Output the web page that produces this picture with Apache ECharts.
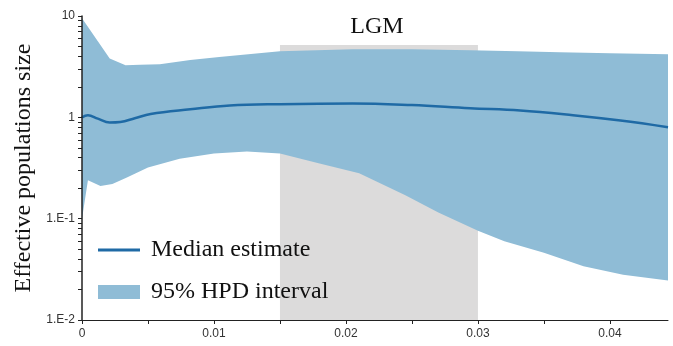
<!DOCTYPE html>
<html>
<head>
<meta charset="utf-8">
<script src="https://cdn.jsdelivr.net/npm/echarts@6/dist/echarts.min.js"></script>
<style>
  html, body { margin: 0; padding: 0; background: #fff; }
  #chart-container { width: 673px; height: 346px; }
</style>
</head>
<body>
<div id="chart-container"></div>
<script>
// upper bound of the 95% HPD interval
const upperX = [0, 0.0012, 0.0021, 0.0033, 0.0044, 0.0059, 0.0082, 0.0104, 0.0150, 0.0205, 0.0250, 0.0294, 0.0330, 0.0362, 0.0400, 0.0444];
const upperY = [9.5, 5.65, 3.81, 3.27, 3.3, 3.35, 3.67, 3.95, 4.5, 4.7, 4.7, 4.6, 4.5, 4.4, 4.3, 4.2];

// median estimate
const medX = [0, 0.00045, 0.0012, 0.0021, 0.0029, 0.0040, 0.0052, 0.0082, 0.0112, 0.0150, 0.0205, 0.0250, 0.0294, 0.0332, 0.0372, 0.0408, 0.0444];
const medY = [1.0, 1.05, 0.97, 0.89, 0.9, 0.98, 1.08, 1.2, 1.31, 1.35, 1.37, 1.32, 1.23, 1.17, 1.05, 0.93, 0.80];

// lower bound of the 95% HPD interval
const lowX = [0, 0.00045, 0.0014, 0.0023, 0.0034, 0.0050, 0.0074, 0.0100, 0.0125, 0.0150, 0.0180, 0.0210, 0.0245, 0.0270, 0.0300, 0.0320, 0.0350, 0.0380, 0.0410, 0.0444];
const lowY = [0.1, 0.24, 0.21, 0.22, 0.255, 0.32, 0.39, 0.44, 0.46, 0.44, 0.35, 0.28, 0.17, 0.115, 0.076, 0.06, 0.046, 0.034, 0.028, 0.0245];

// LGM shaded period
const lgmRange = [0.015, 0.03];
const lgmTop = 5.16;

// axis ticks and labels
const xLabels = [0, 0.01, 0.02, 0.03, 0.04];
const xTicks = [0, 0.005, 0.01, 0.015, 0.02, 0.025, 0.03, 0.035, 0.04];
const yDecades = [0.01, 0.1, 1, 10];

const bandColor = "#8fbcd6";
const lineColor = "#1f6aa5";
const lgmColor = "#dcdbdb";
const axisColor = "#222";
const serif = "'Liberation Serif', 'Times New Roman', serif";

const lg = (v) => Math.log10(v);

// y axis is drawn in log10 space: decade labels + 2..9 minor ticks
const yTicks = [];
yDecades.slice(0, 3).forEach((d) => {
  for (let k = 1; k <= 9; k++) yTicks.push(lg(d * k));
});
yTicks.push(lg(10));

const chart = echarts.init(document.getElementById("chart-container"));

const option = {
  animation: false,
  grid: { left: 82, right: 5, top: 16, bottom: 26 },
  legend: {
    orient: "vertical",
    left: 93,
    top: 233,
    itemWidth: 42,
    itemHeight: 14,
    itemGap: 18,
    selectedMode: false,
    data: [
      { name: "Median estimate", icon: "path://M0,0H42V3H0Z" },
      { name: "95% HPD interval", icon: "rect" },
    ],
    textStyle: { fontFamily: serif, fontSize: 24, color: "#111", padding: [0, 0, 0, 6] },
  },
  xAxis: {
    type: "value",
    min: 0,
    max: 0.0444,
    z: 5,
    axisLine: { onZero: false, lineStyle: { color: axisColor, width: 1 } },
    axisTick: { show: true, customValues: xTicks, length: 4, lineStyle: { color: axisColor } },
    axisLabel: {
      customValues: xLabels,
      margin: 8,
      fontFamily: "'Liberation Sans', Arial, sans-serif",
      fontSize: 12,
      color: "#333",
      formatter: (v) => (v === 0 ? "0" : v.toFixed(2)),
    },
    splitLine: { show: false },
  },
  yAxis: {
    type: "value",
    min: lg(0.01),
    max: lg(10),
    z: 5,
    name: "Effective populations size",
    nameLocation: "middle",
    nameGap: 36,
    nameTextStyle: { fontFamily: serif, fontSize: 24, color: "#111" },
    axisLine: { show: true, onZero: false, lineStyle: { color: axisColor, width: 1.5 } },
    axisTick: { show: true, customValues: yTicks, length: 4, lineStyle: { color: axisColor } },
    axisLabel: {
      customValues: yDecades.map(lg),
      margin: 7,
      fontFamily: "'Liberation Sans', Arial, sans-serif",
      fontSize: 12,
      color: "#333",
      formatter: (v) => {
        const e = Math.round(v);
        return e >= 0 ? String(Math.pow(10, e)) : "1.E" + e;
      },
    },
    splitLine: { show: false },
  },
  series: [
    {
      type: "custom",
      name: "LGM",
      z: 1,
      silent: true,
      data: [[lgmRange[0], lgmRange[1], lg(lgmTop)]],
      renderItem: (params, api) => {
        const p0 = api.coord([api.value(0), lg(0.01)]);
        const p1 = api.coord([api.value(1), api.value(2)]);
        return {
          type: "group",
          children: [
            {
              type: "rect",
              shape: { x: p0[0], y: p1[1], width: p1[0] - p0[0], height: p0[1] - p1[1] },
              style: { fill: lgmColor },
            },
            {
              type: "text",
              x: (p0[0] + p1[0]) / 2 - 2,
              y: p1[1] - 6,
              style: {
                text: "LGM",
                font: "24px " + serif,
                fill: "#111",
                align: "center",
                verticalAlign: "bottom",
              },
            },
          ],
        };
      },
    },
    {
      type: "custom",
      name: "95% HPD interval",
      z: 2,
      silent: true,
      itemStyle: { color: bandColor },
      data: [[0, 0]],
      renderItem: (params, api) => {
        const top = upperX.map((x, i) => api.coord([x, lg(upperY[i])]));
        const bottom = lowX.map((x, i) => api.coord([x, lg(lowY[i])])).reverse();
        return {
          type: "polygon",
          shape: { points: top.concat(bottom) },
          style: { fill: bandColor },
        };
      },
    },
    {
      type: "line",
      name: "Median estimate",
      z: 3,
      smooth: 0.4,
      showSymbol: false,
      symbol: "none",
      itemStyle: { color: lineColor },
      lineStyle: { color: lineColor, width: 2.5 },
      data: medX.map((x, i) => [x, lg(medY[i])]),
    },
  ],
};

chart.setOption(option);
</script>
</body>
</html>
